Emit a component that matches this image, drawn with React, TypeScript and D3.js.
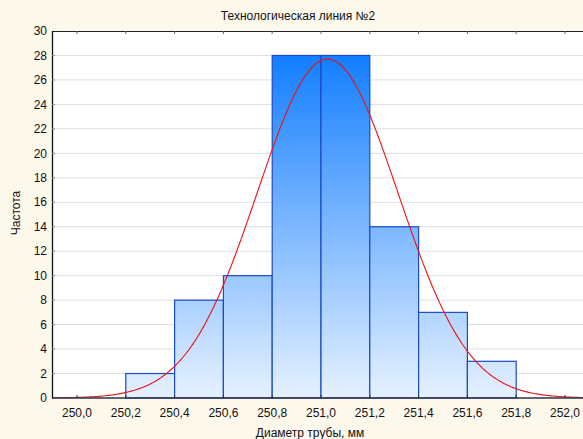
import { useRef, useEffect } from 'react';
import * as d3 from 'd3';

// histogram bins (lower edge, upper edge) and counts
const BIN_STARTS = [250.2, 250.4, 250.6, 250.8, 251.0, 251.2, 251.4, 251.6];
const BIN_WIDTH = 0.2;
const COUNTS = [2, 8, 10, 28, 28, 14, 7, 3];

// fitted normal curve parameters
const FIT_MEAN = 251.027;
const FIT_SD = 0.288;

const X_TICKS = [250.0, 250.2, 250.4, 250.6, 250.8, 251.0, 251.2, 251.4, 251.6, 251.8, 252.0];
const Y_TICKS = [0, 2, 4, 6, 8, 10, 12, 14, 16, 18, 20, 22, 24, 26, 28, 30];

const TITLE = 'Технологическая линия №2';
const X_LABEL = 'Диаметр трубы, мм';
const Y_LABEL = 'Частота';

export default function App() {
  const svgRef = useRef<SVGSVGElement | null>(null);

  useEffect(() => {
    if (!svgRef.current) return;
    const svg = d3.select(svgRef.current);
    svg.selectAll('*').remove();

    const W = 583, H = 439;
    const left = 52, top = 31, bottom = 398;
    const x = d3.scaleLinear().domain([250, 252]).range([77, 565]);
    const y = d3.scaleLinear().domain([0, 30]).range([bottom, top]);
    const right = x(252.1);
    const font = 'Arial, "Liberation Sans", sans-serif';

    svg.append('rect').attr('width', W).attr('height', H).attr('fill', '#fdf8ec');
    svg.append('rect')
      .attr('x', left).attr('y', top)
      .attr('width', right - left).attr('height', bottom - top)
      .attr('fill', '#ffffff');

    const defs = svg.append('defs');
    const grad = defs.append('linearGradient')
      .attr('id', 'barGrad')
      .attr('gradientUnits', 'userSpaceOnUse')
      .attr('x1', 0).attr('x2', 0)
      .attr('y1', y(28)).attr('y2', y(0));
    grad.append('stop').attr('offset', '0%').attr('stop-color', '#137eff');
    grad.append('stop').attr('offset', '100%').attr('stop-color', '#e6f1ff');

    // gridlines
    svg.append('g').selectAll('line')
      .data(Y_TICKS.filter(t => t > 0 && t < 30))
      .enter().append('line')
      .attr('x1', left).attr('x2', right)
      .attr('y1', d => y(d)).attr('y2', d => y(d))
      .attr('stroke', '#dedede').attr('stroke-width', 1);

    // bars
    const bins = BIN_STARTS.map((s, i) => ({ x0: s, x1: s + BIN_WIDTH, n: COUNTS[i] }));
    svg.append('g').selectAll('rect')
      .data(bins)
      .enter().append('rect')
      .attr('x', d => x(d.x0))
      .attr('y', d => y(d.n))
      .attr('width', d => x(d.x1) - x(d.x0))
      .attr('height', d => y(0) - y(d.n))
      .attr('fill', 'url(#barGrad)')
      .attr('stroke', '#1a4ac6')
      .attr('stroke-width', 1.2);

    // fitted normal curve
    const total = d3.sum(COUNTS);
    const dens = (v: number) =>
      total * BIN_WIDTH / (FIT_SD * Math.sqrt(2 * Math.PI)) *
      Math.exp(-((v - FIT_MEAN) ** 2) / (2 * FIT_SD * FIT_SD));
    const xs = d3.range(x.invert(left), x.invert(right) + 0.001, 0.005);
    const line = d3.line<number>().x(v => x(v)).y(v => y(dens(v))).curve(d3.curveLinear);
    svg.append('path')
      .datum(xs)
      .attr('d', line)
      .attr('fill', 'none')
      .attr('stroke', '#ee1111')
      .attr('stroke-width', 1.1);

    // frame
    svg.append('line').attr('x1', left).attr('x2', right).attr('y1', top + 0.5).attr('y2', top + 0.5)
      .attr('stroke', '#222').attr('stroke-width', 1);
    svg.append('line').attr('x1', left + 0.5).attr('x2', left + 0.5).attr('y1', top).attr('y2', bottom)
      .attr('stroke', '#111').attr('stroke-width', 1.3);
    svg.append('line').attr('x1', left).attr('x2', right).attr('y1', bottom).attr('y2', bottom)
      .attr('stroke', '#2b3448').attr('stroke-width', 1.5);

    // y ticks and labels
    const yg = svg.append('g');
    Y_TICKS.forEach(t => {
      if (t > 0 && t < 30) {
        yg.append('line').attr('x1', left).attr('x2', left + 3)
          .attr('y1', y(t)).attr('y2', y(t)).attr('stroke', '#888');
      }
      yg.append('text')
        .attr('x', left - 5).attr('y', y(t))
        .attr('dy', '0.35em')
        .attr('text-anchor', 'end')
        .attr('font-family', font).attr('font-size', 12)
        .attr('fill', '#111')
        .text(String(t));
    });

    // x ticks (top and bottom) and labels
    const xg = svg.append('g');
    X_TICKS.forEach(t => {
      xg.append('line').attr('x1', x(t)).attr('x2', x(t))
        .attr('y1', top).attr('y2', top + 3).attr('stroke', '#666');
      xg.append('line').attr('x1', x(t)).attr('x2', x(t))
        .attr('y1', bottom).attr('y2', bottom - 3).attr('stroke', '#333');
      xg.append('text')
        .attr('x', x(t)).attr('y', 417)
        .attr('text-anchor', 'middle')
        .attr('font-family', font).attr('font-size', 12)
        .attr('fill', '#111')
        .text(t.toFixed(1).replace('.', ','));
    });

    svg.append('text')
      .attr('x', 298).attr('y', 20)
      .attr('text-anchor', 'middle')
      .attr('font-family', font).attr('font-size', 12)
      .attr('fill', '#111')
      .text(TITLE);

    svg.append('text')
      .attr('x', 310).attr('y', 437)
      .attr('text-anchor', 'middle')
      .attr('font-family', font).attr('font-size', 12)
      .attr('fill', '#111')
      .text(X_LABEL);

    svg.append('text')
      .attr('transform', `translate(20,213) rotate(-90)`)
      .attr('text-anchor', 'middle')
      .attr('font-family', font).attr('font-size', 12)
      .attr('fill', '#111')
      .text(Y_LABEL);
  }, []);

  return (
    <svg
      ref={svgRef}
      width={583}
      height={439}
      style={{ position: 'absolute', left: 0, top: 0, display: 'block' }}
    />
  );
}
